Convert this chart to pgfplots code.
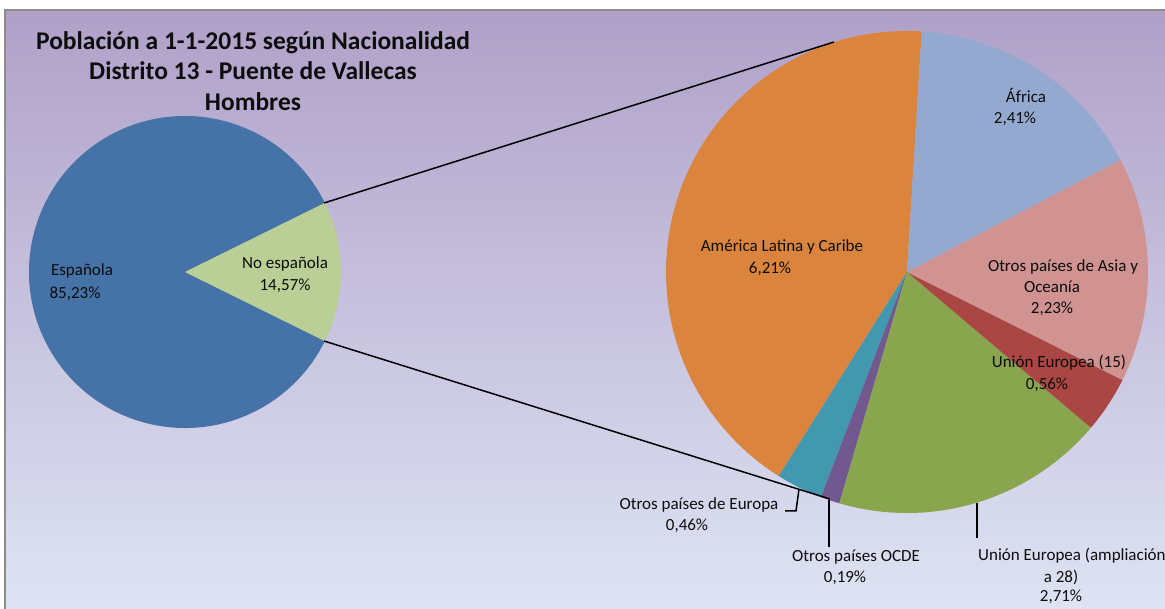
\documentclass[border=0pt]{standalone}
\usepackage{pgfplots}
\pgfplotsset{compat=1.18}
\usepackage{pgfplotstable}
\usepackage{fontspec}
\setmainfont{Carlito}

\definecolor{bgTop}{HTML}{B0A0C8}
\definecolor{bgMid}{HTML}{C0C8E8}
\definecolor{bgBot}{HTML}{DFE6F5}
\definecolor{frameGray}{HTML}{8C8C8C}
\definecolor{cEsp}{HTML}{4572A7}
\definecolor{cNoEsp}{HTML}{B9CF96}
\definecolor{cAm}{HTML}{DB843D}
\definecolor{cEu}{HTML}{4198AF}
\definecolor{cOc}{HTML}{71588F}
\definecolor{cUa}{HTML}{89A54E}
\definecolor{cUq}{HTML}{AA4643}
\definecolor{cAs}{HTML}{D19392}
\definecolor{cAf}{HTML}{93A9CF}
\definecolor{txt}{HTML}{0D0D0D}

% first pie: total population
\pgfplotstableread{
value col
85.23 cEsp
14.57 cNoEsp
}\leftdata

% second pie: breakdown of "No española", counterclockwise from the top
\pgfplotstableread{
value col
6.21 cAm
0.46 cEu
0.19 cOc
2.71 cUa
0.56 cUq
2.23 cAs
2.41 cAf
}\rightdata

% \drawpie{table}{cx}{cy}{radius}{start angle}
\newcommand\drawpie[5]{%
  \pgfplotstablegetrowsof{#1}\pgfmathtruncatemacro\lastrow{\pgfplotsretval-1}%
  \def\pietotal{0}%
  \pgfplotsforeachungrouped \i in {0,...,\lastrow}{%
    \pgfplotstablegetelem{\i}{value}\of#1%
    \pgfmathsetmacro\pietotal{\pietotal+\pgfplotsretval}}%
  \def\angA{#5}%
  \pgfplotsforeachungrouped \i in {0,...,\lastrow}{%
    \pgfplotstablegetelem{\i}{value}\of#1\let\slv\pgfplotsretval
    \pgfplotstablegetelem{\i}{col}\of#1\let\slicecol\pgfplotsretval
    \pgfmathsetmacro\angB{\angA+360*(\slv/\pietotal)}%
    \fill[\slicecol] (axis cs:#2,#3) -- ++(\angA:#4pt)
      arc[start angle=\angA, end angle=\angB, radius=#4pt] -- cycle;
    \let\angA\angB}%
}

\begin{document}
\begin{tikzpicture}
\begin{axis}[
  width=1165pt, height=608pt, scale only axis,
  xmin=0, xmax=1165, ymin=0, ymax=608,
  hide axis, clip=false,
]
\pgfplotsextra{
  \shade[top color=bgTop, middle color=bgMid, bottom color=bgBot]
    (axis cs:5,-20) rectangle (axis cs:1180,598);
  \draw[frameGray, line width=2pt] (axis cs:5,-20) -- (axis cs:5,598) -- (axis cs:1180,598);
  \drawpie{\leftdata}{185}{336}{156}{26.28}
  \drawpie{\rightdata}{907}{336}{241}{86.5}
  % connectors and leader lines
  \draw[black, line width=1.5pt] (axis cs:324,405) -- (axis cs:834,566);
  \draw[black, line width=1.5pt] (axis cs:324,267) -- (axis cs:830,109);
  \draw[black, line width=1.5pt] (axis cs:785,97) -- (axis cs:796,97) -- (axis cs:799,119);
  \draw[black, line width=1.5pt] (axis cs:829,108) -- (axis cs:829,61);
  \draw[black, line width=1.5pt] (axis cs:977,105) -- (axis cs:977,70);
}
% title
\node[txt, align=center, font=\bfseries\fontsize{25.5}{30.5}\selectfont]
  at (axis cs:253,537) {Población a 1-1-2015 según Nacionalidad\\Distrito 13 - Puente de Vallecas\\Hombres};
% data labels
\begin{scope}[every node/.style={txt, font=\fontsize{17}{22}\selectfont, text height=11pt, text depth=3pt, inner sep=0pt}]
\node at (axis cs:82,336) {Española};
\node at (axis cs:75,313) {85,23\%};
\node at (axis cs:285,343) {No española};
\node at (axis cs:285,321) {14,57\%};
\node at (axis cs:782,360) {América Latina y Caribe};
\node at (axis cs:770,338) {6,21\%};
\node at (axis cs:1026,509) {África};
\node at (axis cs:1015,488) {2,41\%};
\node at (axis cs:1063,340) {Otros países de Asia y};
\node at (axis cs:1052,319) {Oceanía};
\node at (axis cs:1052,298) {2,23\%};
\node at (axis cs:1059,244) {Unión Europea (15)};
\node at (axis cs:1047,222) {0,56\%};
\node at (axis cs:699,102) {Otros países de Europa};
\node at (axis cs:687,81) {0,46\%};
\node at (axis cs:856,50) {Otros países OCDE};
\node at (axis cs:845,29) {0,19\%};
\node[anchor=west] at (axis cs:978,51) {Unión Europea (ampliación};
\node at (axis cs:1061,29) {a 28)};
\node at (axis cs:1061,10) {2,71\%};
\end{scope}
\end{axis}
\pgfresetboundingbox
\useasboundingbox (0,0) rectangle (1165pt,608pt);
\end{tikzpicture}
\end{document}
